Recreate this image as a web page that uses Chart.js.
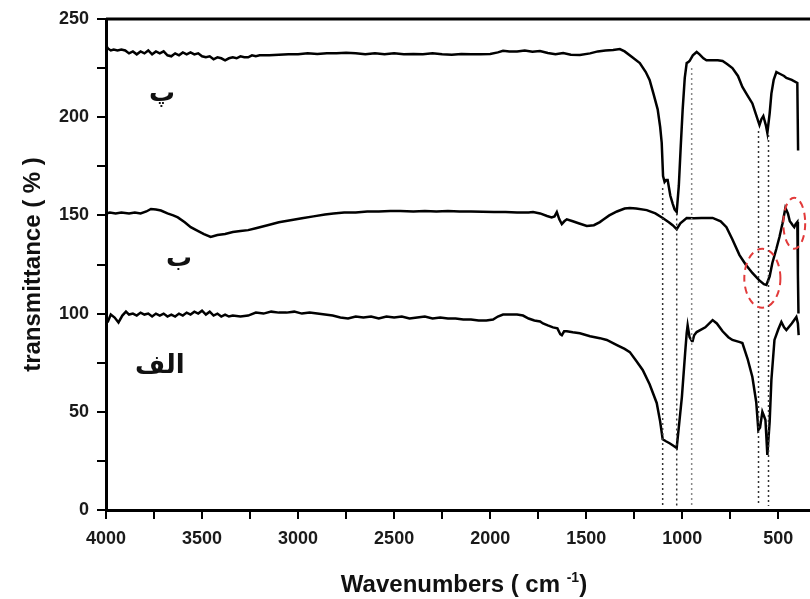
<!DOCTYPE html>
<html>
<head>
<meta charset="utf-8">
<script src="https://cdn.jsdelivr.net/npm/chart.js@4.4.1/dist/chart.umd.min.js"></script>
<style>
  body { margin: 0; background: #fff; }
  #wrap { width: 810px; height: 599px; }
</style>
</head>
<body>
<div id="wrap"><canvas id="ftirChart"></canvas></div>
<script>
// axis ranges and ticks
const xMin = 335;
const xMax = 4000;
const yMin = 0;
const yMax = 250;
const xMinorStep = 250;
const xLabelStep = 500;
const yMinorStep = 25;
const yLabelStep = 50;

// curve "الف" (bottom)
const alefWn = [4000, 3990, 3975, 3955, 3935, 3915, 3896, 3880, 3860, 3840, 3820, 3800, 3780, 3760, 3740, 3720, 3700, 3680, 3660, 3640,
  3620, 3600, 3580, 3560, 3540, 3520, 3500, 3480, 3460, 3440, 3420, 3400, 3380, 3360, 3340, 3300, 3260, 3220, 3180, 3140,
  3100, 3060, 3020, 2980, 2940, 2900, 2860, 2820, 2780, 2740, 2700, 2660, 2620, 2580, 2540, 2500, 2460, 2420, 2380, 2340,
  2300, 2260, 2220, 2180, 2140, 2100, 2060, 2020, 1985, 1960, 1933, 1900, 1860, 1829, 1800, 1770, 1740, 1725, 1700, 1673,
  1650, 1635, 1627, 1615, 1601, 1570, 1533, 1480, 1429, 1393, 1340, 1300, 1273, 1240, 1206, 1170, 1133, 1115, 1102, 1085,
  1066, 1050, 1029, 1015, 1002, 985, 977, 972, 962, 950, 946, 938, 925, 880, 842, 820, 790, 760, 739, 700,
  687, 660, 635, 615, 604, 595, 583, 575, 567, 557, 545, 536, 520, 500, 484, 470, 458, 430, 406, 398, 394];
const alefT = [95, 96, 99.5, 98, 95.5, 99, 101, 99.5, 100, 99, 100.5, 99.5, 100, 98.5, 100, 99, 100, 98.5, 99.5, 98.5,
  100, 99, 100.5, 99.5, 101, 100, 101.5, 99.5, 101, 99, 100, 98.5, 99.5, 98.5, 99, 98.5, 99, 100.5, 100, 101,
  100.5, 100.5, 101, 100, 100.5, 100, 99.5, 99, 98, 97.5, 98.5, 98, 98.5, 97.5, 98.5, 98, 98.5, 97.5, 98, 98.5,
  97.5, 98, 97.5, 97.5, 97, 97, 96.5, 96.5, 97, 98.5, 99.5, 99.5, 99.5, 99, 97.5, 96.5, 96, 95, 94, 93,
  92.5, 89.5, 89, 91, 91, 90.5, 90, 88.5, 87.5, 86.6, 84, 82, 80.4, 76, 71.3, 64, 54.5, 45, 36, 35,
  34, 33, 31.6, 45, 57.5, 80, 90, 94, 88, 86, 86, 89, 90.6, 93, 96.7, 95, 91, 88, 86.6, 85.5,
  85, 77, 67.7, 55, 40.7, 42, 50, 48, 45.8, 28, 45, 66.2, 86.6, 92, 95.7, 93, 91.6, 95, 98.3, 95, 89];

// curve "ب" (middle)
const beWn = [4000, 3980, 3950, 3920, 3880, 3850, 3820, 3790, 3766, 3740, 3714, 3680, 3650, 3626, 3590, 3559, 3520, 3490, 3455, 3420,
  3380, 3340, 3300, 3260, 3220, 3159, 3100, 3040, 2980, 2920, 2860, 2816, 2760, 2700, 2640, 2580, 2520, 2468, 2400, 2340,
  2280, 2220, 2160, 2100, 2040, 1980, 1920, 1860, 1800, 1777, 1740, 1704, 1680, 1665, 1653, 1640, 1627, 1614, 1601, 1570,
  1540, 1497, 1460, 1429, 1414, 1380, 1340, 1300, 1273, 1240, 1185, 1140, 1102, 1070, 1050, 1029, 1010, 977, 940, 900,
  842, 800, 770, 740, 702, 670, 635, 600, 575, 562, 545, 531, 510, 494, 478, 463, 450, 440, 432, 425,
  417, 410, 401, 398, 395];
const beT = [151, 151.5, 151, 151.5, 151, 151.5, 151, 152, 153.3, 153, 152.5, 151, 150, 149, 146.5, 144, 142, 140.5, 139, 140,
  140.5, 141.5, 142, 142.5, 143.5, 145, 146.5, 147.5, 148.5, 149.5, 150.5, 151, 151.5, 151.5, 152, 152, 152.2, 152.2, 152, 152.3,
  152, 152.2, 152, 152, 151.8, 151.7, 151.7, 151.5, 151.5, 151.7, 151, 149.7, 149, 149.5, 151.7, 148, 145.6, 147, 148, 147,
  146, 144.6, 145, 146.6, 147.7, 150, 152, 153.5, 153.8, 153.5, 152.7, 151, 148.7, 146.5, 145, 143, 146, 148.7, 148.5, 148.7,
  148.7, 147, 144, 138, 129.8, 125, 120.7, 117, 115, 114.6, 119, 125.8, 133, 139, 146, 153.8, 151, 147, 146, 145,
  144, 145.5, 146.6, 120, 100];

// curve "پ" (top)
const peWn = [4000, 3990, 3975, 3960, 3940, 3920, 3900, 3880, 3860, 3840, 3820, 3800, 3780, 3760, 3740, 3720, 3700, 3680, 3660, 3640,
  3620, 3600, 3580, 3560, 3540, 3520, 3500, 3480, 3460, 3440, 3420, 3400, 3380, 3360, 3340, 3320, 3300, 3280, 3260, 3240,
  3220, 3200, 3150, 3100, 3050, 3000, 2950, 2900, 2850, 2800, 2750, 2700, 2650, 2600, 2550, 2500, 2450, 2400, 2350, 2300,
  2250, 2200, 2150, 2100, 2050, 2000, 1960, 1933, 1900, 1860, 1820, 1780, 1741, 1700, 1660, 1620, 1580, 1533, 1480, 1440,
  1400, 1360, 1325, 1300, 1260, 1221, 1190, 1170, 1150, 1128, 1115, 1107, 1100, 1092, 1084, 1076, 1062, 1050, 1040, 1029,
  1018, 1008, 998, 987, 977, 969, 962, 945, 925, 910, 890, 874, 842, 815, 790, 765, 739, 710, 687, 660,
  635, 615, 598, 588, 578, 565, 557, 545, 536, 524, 510, 490, 470, 458, 430, 401, 397];
const peT = [236.5, 235, 234, 234.5, 234, 234.5, 234, 232.5, 233.5, 232, 233.5, 232.5, 234, 232, 233.5, 232.5, 233.5, 231.5, 231, 232.5,
  231.5, 233, 232, 233, 232, 232.5, 231, 230.5, 231, 229.5, 230.5, 230, 229, 230, 230.5, 230, 231, 230.5, 230.5, 231.5,
  231, 231.5, 231.5, 231.8, 232, 232, 232.5, 232.2, 232.5, 232.5, 232.8, 232.5, 232, 232.5, 232, 232.5, 232, 232.2, 232, 232.5,
  232, 231.8, 232.2, 232, 232, 232.2, 233, 233.8, 233.5, 233.5, 234, 233.3, 233.7, 232.7, 232, 232.7, 231.8, 231.7, 232.5, 233.5,
  234, 234.2, 234.7, 233.5, 230.5, 227.6, 223, 219, 212, 204, 195, 187, 170, 167, 168, 168, 160, 156, 153, 151.7,
  165, 185, 203.7, 220, 227.6, 228, 228.6, 231.5, 233.2, 232, 230, 229, 229, 229, 228.6, 227, 225, 221, 215.4, 211,
  207, 201, 196, 199, 200.6, 196, 192, 202, 212, 219, 223, 222, 221, 220, 219, 217.4, 183];

// dotted guide lines (wavenumber, top and bottom transmittance)
const guideWn = [1102, 1029, 951, 603, 551];
const guideTop = [164, 151, 225, 193, 191];
const guideBottom = [2, 2, 2, 2, 2];

// curve labels
const curveLabels = ['الف', 'ب', 'پ'];
const labelWn = [3720, 3620, 3708];
const labelT = [70, 124, 208];

// red dashed marks (centre and half widths in data units)
const markWn = [583, 417];
const markT = [118, 146];
const markHalfWn = [94, 57];
const markHalfT = [15, 13];

function toPoints(xs, ys) {
  return xs.map((x, i) => ({ x: x, y: ys[i] }));
}

const curveStyle = {
  borderColor: '#000',
  borderWidth: 2.5,
  pointRadius: 0,
  tension: 0,
  fill: false
};

const datasets = [];
guideWn.forEach((wn, i) => {
  datasets.push({
    data: [{ x: wn, y: guideTop[i] }, { x: wn, y: guideBottom[i] }],
    borderColor: i === 2 ? '#888' : '#333',
    borderWidth: 1.5,
    borderDash: [2, 3],
    pointRadius: 0
  });
});
datasets.push(Object.assign({ label: curveLabels[0], data: toPoints(alefWn, alefT) }, curveStyle));
datasets.push(Object.assign({ label: curveLabels[1], data: toPoints(beWn, beT) }, curveStyle));
datasets.push(Object.assign({ label: curveLabels[2], data: toPoints(peWn, peT) }, curveStyle));

// labels, ellipses, top frame line and x title
const extras = {
  id: 'extras',
  afterDatasetsDraw(chart) {
    const ctx = chart.ctx;
    const xs = chart.scales.x;
    const ys = chart.scales.y;
    ctx.save();
    ctx.fillStyle = '#111';
    ctx.font = 'bold 26px "DejaVu Sans"';
    ctx.textAlign = 'center';
    ctx.textBaseline = 'alphabetic';
    curveLabels.forEach((t, i) => {
      ctx.fillText(t, xs.getPixelForValue(labelWn[i]), ys.getPixelForValue(labelT[i]));
    });

    ctx.strokeStyle = '#e23a3a';
    ctx.lineWidth = 2;
    ctx.setLineDash([7, 5]);
    markWn.forEach((wn, i) => {
      const cx = xs.getPixelForValue(wn);
      const cy = ys.getPixelForValue(markT[i]);
      const rx = Math.abs(xs.getPixelForValue(wn + markHalfWn[i]) - cx);
      const ry = Math.abs(ys.getPixelForValue(markT[i] + markHalfT[i]) - cy);
      ctx.beginPath();
      ctx.ellipse(cx, cy, rx, ry, 0, 0, Math.PI * 2);
      ctx.stroke();
    });
    ctx.restore();
  },
  afterDraw(chart) {
    const ctx = chart.ctx;
    const area = chart.chartArea;
    ctx.save();
    ctx.strokeStyle = '#000';
    ctx.lineWidth = 3;
    ctx.beginPath();
    ctx.moveTo(area.left, area.top);
    ctx.lineTo(area.right, area.top);
    ctx.stroke();

    // x axis title with superscript
    const main = 'Wavenumbers ( cm ';
    const sup = '-1';
    const close = ')';
    ctx.fillStyle = '#111';
    ctx.textBaseline = 'alphabetic';
    ctx.textAlign = 'left';
    ctx.font = 'bold 24px "Liberation Sans", Arial, sans-serif';
    const w1 = ctx.measureText(main).width;
    const w3 = ctx.measureText(close).width;
    ctx.font = 'bold 14px "Liberation Sans", Arial, sans-serif';
    const w2 = ctx.measureText(sup).width;
    const total = w1 + w2 + w3;
    let x = (area.left + area.right) / 2 + 6 - total / 2;
    const base = area.bottom + 82;
    ctx.font = 'bold 24px "Liberation Sans", Arial, sans-serif';
    ctx.fillText(main, x, base);
    x += w1;
    ctx.font = 'bold 14px "Liberation Sans", Arial, sans-serif';
    ctx.fillText(sup, x, base - 10);
    x += w2;
    ctx.font = 'bold 24px "Liberation Sans", Arial, sans-serif';
    ctx.fillText(close, x, base);
    ctx.restore();
  }
};

const tickFont = { family: '"Liberation Sans", Arial, sans-serif', size: 18, weight: 'bold' };

new Chart(document.getElementById('ftirChart'), {
  type: 'line',
  data: { datasets: datasets },
  options: {
    responsive: true,
    maintainAspectRatio: false,
    animation: false,
    layout: { padding: { top: 19, right: 0, left: 0, bottom: 0 } },
    plugins: {
      legend: { display: false },
      tooltip: { enabled: false }
    },
    scales: {
      x: {
        type: 'linear',
        reverse: true,
        min: xMin,
        max: xMax,
        afterFit(scale) { scale.height = 89; },
        afterBuildTicks(scale) {
          scale.ticks = scale.ticks.filter(t => t.value % xMinorStep === 0);
        },
        ticks: {
          stepSize: xMinorStep,
          includeBounds: false,
          autoSkip: false,
          maxRotation: 0,
          padding: 9,
          color: '#1a1a1a',
          font: tickFont,
          callback: v => (v % xLabelStep === 0 ? v : '')
        },
        grid: { drawOnChartArea: false, tickLength: 9, color: '#000', lineWidth: 2 },
        border: { color: '#000', width: 3 }
      },
      y: {
        type: 'linear',
        min: yMin,
        max: yMax,
        afterFit(scale) { scale.width = 106; },
        ticks: {
          stepSize: yMinorStep,
          autoSkip: false,
          padding: 8,
          color: '#1a1a1a',
          font: tickFont,
          callback: v => (v % yLabelStep === 0 ? v : '')
        },
        grid: { drawOnChartArea: false, tickLength: 9, color: '#000', lineWidth: 2 },
        border: { color: '#000', width: 3 },
        title: {
          display: true,
          text: 'transmittance ( % )',
          color: '#111',
          padding: { top: 19, bottom: 0 },
          font: { family: '"Liberation Sans", Arial, sans-serif', size: 24, weight: 'bold' }
        }
      }
    }
  },
  plugins: [extras]
});
</script>
</body>
</html>
